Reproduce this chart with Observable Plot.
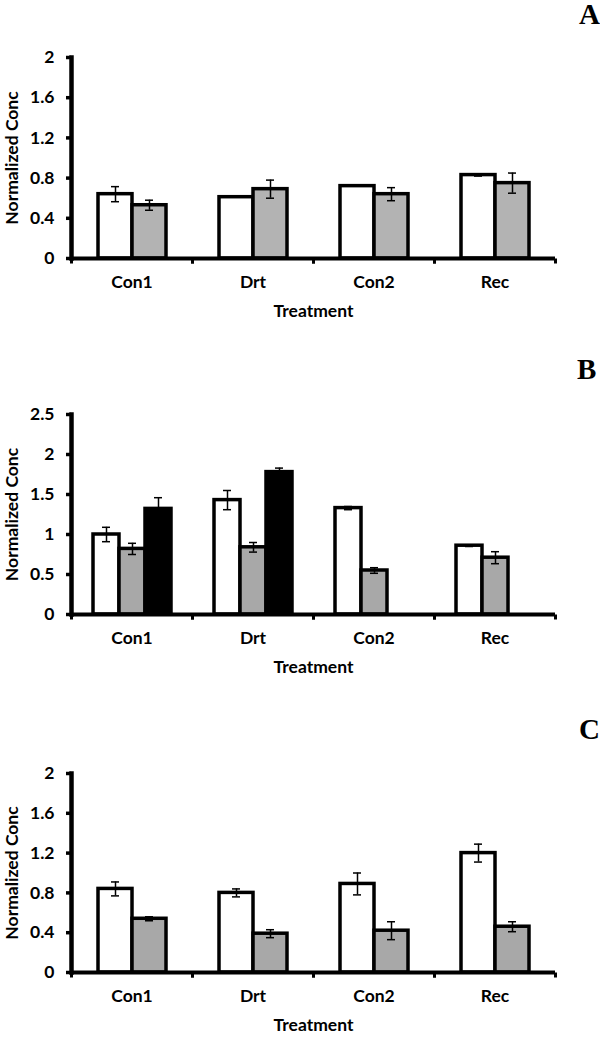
<!DOCTYPE html>
<html><head><meta charset="utf-8">
<script src="https://cdn.jsdelivr.net/npm/d3@7"></script>
<script src="https://cdn.jsdelivr.net/npm/@observablehq/plot@0.6"></script>
<style>
html,body{margin:0;padding:0;background:#fff;overflow:hidden;}
#wrap{position:relative;width:600px;height:1037px;}
.panel{position:absolute;left:0;}
.letter{position:absolute;font-family:"Liberation Serif","Times New Roman",serif;font-weight:bold;font-size:29px;line-height:29px;color:#000;}
</style></head><body><div id="wrap"></div>
<script>
const treatments = ["Con1", "Drt", "Con2", "Rec"];
const seriesAC = ["S1", "S2"];
const seriesB = ["S1", "S2", "S3"];
const fillsA = ["#ffffff", "#b3b3b3"];
const fillsB = ["#ffffff", "#a8a8a8", "#000000"];
const fillsC = ["#ffffff", "#a8a8a8"];

const aWhite = [0.64, 0.61, 0.72, 0.83];
const aWhiteErr = [0.075, 0, 0, 0.01];
const aGray = [0.53, 0.69, 0.64, 0.75];
const aGrayErr = [0.05, 0.09, 0.065, 0.10];

const bWhite = [1.00, 1.43, 1.33, 0.86];
const bWhiteErr = [0.09, 0.12, 0.02, 0.01];
const bGray = [0.82, 0.84, 0.55, 0.71];
const bGrayErr = [0.07, 0.06, 0.035, 0.075];
const bBlack = [1.32, 1.78, null, null];
const bBlackErr = [0.14, 0.05, null, null];

const cWhite = [0.84, 0.80, 0.89, 1.20];
const cWhiteErr = [0.07, 0.04, 0.11, 0.09];
const cGray = [0.54, 0.39, 0.42, 0.46];
const cGrayErr = [0.02, 0.04, 0.09, 0.05];

const ticksAC = [0, 0.4, 0.8, 1.2, 1.6, 2];
const ticksB = [0, 0.5, 1, 1.5, 2, 2.5];

function rows(series, values, errs) {
  return treatments.map((t, i) => ({treatment: t, series, value: values[i], err: errs[i]}))
    .filter(d => d.value != null);
}

const boundaryTick = {draw(ctx) { ctx.moveTo(-1.5, 0); ctx.lineTo(1.5, 0); ctx.lineTo(1.5, 5); ctx.lineTo(-1.5, 5); ctx.closePath(); }};

function panel({data, series, fills, yMax, ticks, top, marginTop, plotH, marginBottom, capInset}) {
  const errRows = data.filter(d => d.err > 0);
  const chart = Plot.plot({
    width: 600,
    height: marginTop + plotH + marginBottom,
    marginLeft: 70, marginRight: 44, marginTop, marginBottom,
    style: {fontFamily: "Lato, sans-serif", fontSize: "17.5px", fontWeight: "bold", color: "#000", background: "#fff"},
    fx: {domain: treatments, padding: 0, axis: "bottom", tickSize: 0, tickPadding: 17, label: "Treatment", labelAnchor: "center", labelOffset: 58},
    x: {domain: series, paddingInner: 0, paddingOuter: 0.75, axis: null},
    y: {domain: [0, yMax]},
    color: {domain: series, range: fills},
    marks: [
      Plot.barY(data, {fx: "treatment", x: "series", y: "value", fill: "series", stroke: "#000", strokeWidth: 3.5}),
      Plot.ruleX(errRows, {fx: "treatment", x: "series", y1: d => d.value - d.err, y2: d => d.value + d.err, stroke: "#000", strokeWidth: 1.5}),
      Plot.tickY(errRows, {fx: "treatment", x: "series", y: d => d.value + d.err, insetLeft: capInset, insetRight: capInset, stroke: "#000", strokeWidth: 1.5}),
      Plot.tickY(errRows, {fx: "treatment", x: "series", y: d => d.value - d.err, insetLeft: capInset, insetRight: capInset, stroke: "#000", strokeWidth: 1.5}),
      Plot.ruleY([0], {stroke: "#000", strokeWidth: 4}),
      Plot.dot([0], {frameAnchor: "bottom-left", symbol: boundaryTick, fill: "#000", stroke: "none"}),
      Plot.dot([0], {frameAnchor: "bottom-right", symbol: boundaryTick, fill: "#000", stroke: "none"}),
      Plot.axisY({ticks, tickSize: 5, tickPadding: 12, tickFormat: d => String(d), stroke: "#000", strokeWidth: 3.5,
        label: "Normalized Conc", labelAnchor: "center", labelOffset: 66, labelArrow: "none"}),
      Plot.frame({anchor: "left", facetAnchor: "left", stroke: "#000", strokeWidth: 4.5})
    ]
  });
  chart.classList.add("panel");
  chart.style.top = top + "px";
  document.getElementById("wrap").appendChild(chart);
}

panel({
  data: [...rows("S1", aWhite, aWhiteErr), ...rows("S2", aGray, aGrayErr)],
  series: seriesAC, fills: fillsA, yMax: 2, ticks: ticksAC,
  top: 0, marginTop: 57, plotH: 201, marginBottom: 70, capInset: 13
});
panel({
  data: [...rows("S1", bWhite, bWhiteErr), ...rows("S2", bGray, bGrayErr), ...rows("S3", bBlack, bBlackErr)],
  series: seriesB, fills: fillsB, yMax: 2.5, ticks: ticksB,
  top: 340, marginTop: 74, plotH: 200, marginBottom: 70, capInset: 9
});
panel({
  data: [...rows("S1", cWhite, cWhiteErr), ...rows("S2", cGray, cGrayErr)],
  series: seriesAC, fills: fillsC, yMax: 2, ticks: ticksAC,
  top: 690, marginTop: 83, plotH: 199, marginBottom: 65, capInset: 13
});

const letters = [["A", 579, 0], ["B", 577, 355], ["C", 579, 715]];
for (const [t, x, y] of letters) {
  const d = document.createElement("div");
  d.className = "letter";
  d.textContent = t;
  d.style.left = x + "px";
  d.style.top = y + "px";
  document.getElementById("wrap").appendChild(d);
}
</script></body></html>
